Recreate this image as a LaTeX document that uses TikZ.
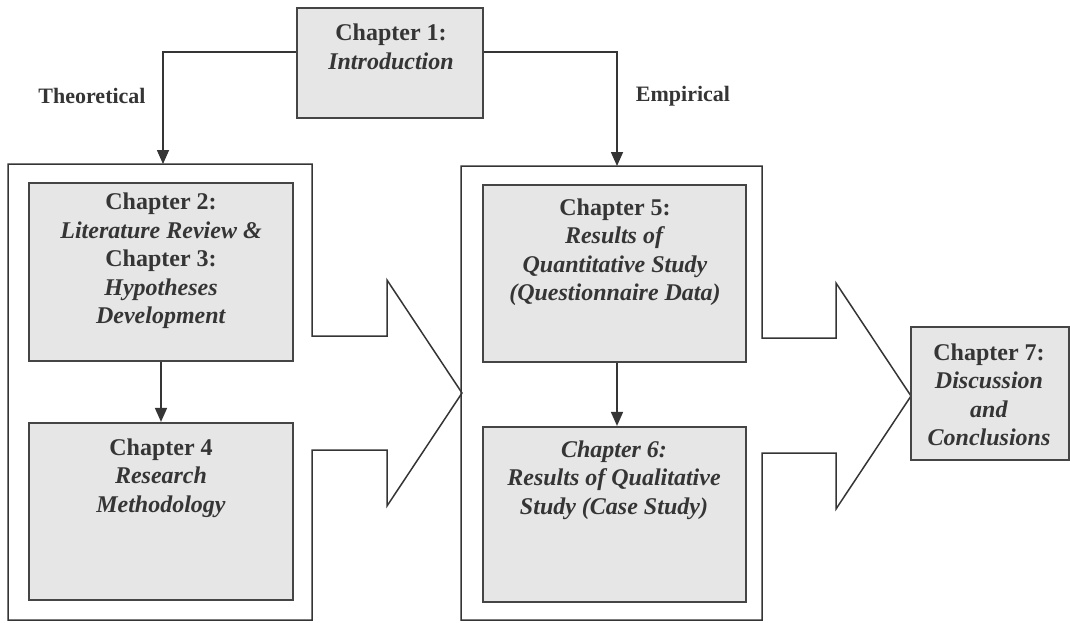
\documentclass[tikz,border=0pt]{standalone}
\usepackage{fontspec}
\setmainfont{Liberation Serif}
\usetikzlibrary{arrows.meta}

\definecolor{ink}{HTML}{353535}
\definecolor{edge}{HTML}{454545}
\definecolor{boxfill}{HTML}{E6E6E6}

\tikzset{
  chbox/.style={draw=edge, line width=2.2pt, fill=boxfill, inner sep=0pt},
  chtext/.style={text=ink, align=center, inner sep=0pt,
    font=\fontsize{24}{28.5}\selectfont\bfseries},
  sidelabel/.style={text=ink, inner sep=0pt,
    font=\fontsize{22}{26}\selectfont\bfseries},
  frame/.style={draw=ink, line width=1.5pt, line join=miter},
  link/.style={draw=ink, line width=1.6pt,
    -{Triangle[width=12pt,length=14pt]}},
}

\begin{document}
\begin{tikzpicture}[x=1pt, y=-1pt]
\useasboundingbox (0,0) rectangle (1070,622);

% outer frames with their block arrows
\draw[frame] (8,164) -- (312,164) -- (312,336) -- (387,336) -- (387,280)
  -- (462,393) -- (387,506) -- (387,450) -- (312,450) -- (312,620)
  -- (8,620) -- cycle;
\draw[frame] (461,166) -- (762,166) -- (762,338) -- (836,338) -- (836,283)
  -- (911,396) -- (836,509) -- (836,453) -- (762,453) -- (762,620)
  -- (461,620) -- cycle;
\coordinate (theo) at (163,164);
\coordinate (emp)  at (617,166);

% chapter boxes
\node[chbox, minimum width=186pt, minimum height=110pt] (ch1) at (390,63) {};
\node[chbox, minimum width=264pt, minimum height=178pt] (ch2) at (161,272) {};
\node[chbox, minimum width=264pt, minimum height=177pt] (ch4) at (161,511.5) {};
\node[chbox, minimum width=263pt, minimum height=177pt] (ch5) at (614.5,273.5) {};
\node[chbox, minimum width=263pt, minimum height=175pt] (ch6) at (614.5,514.5) {};
\node[chbox, minimum width=158pt, minimum height=133pt] (ch7) at (990,393.5) {};

% chapter texts
\node[chtext] (t1) at (391,47) {Chapter 1:\\ \textit{Introduction}};
\node[chtext] (t2) at (161,261) {Chapter 2:\\ \textit{Literature Review \&}\\ Chapter 3:\\ \textit{Hypotheses}\\ \textit{Development}};
\node[chtext] (t4) at (161,478) {Chapter 4\\ \textit{Research}\\ \textit{Methodology}};
\node[chtext] (t5) at (615,252) {Chapter 5:\\ \textit{Results of}\\ \textit{Quantitative Study}\\ \textit{(Questionnaire Data)}};
\node[chtext] (t6) at (614,480) {\textit{Chapter 6:}\\ \textit{Results of Qualitative}\\ \textit{Study (Case Study)}};
\node[chtext] (t7) at (989,395) {Chapter 7:\\ \textit{Discussion}\\ \textit{and}\\ \textit{Conclusions}};

% branch labels
\node[sidelabel] (lt) at (92,96) {Theoretical};
\node[sidelabel] (le) at (683,96) {Empirical};

% connectors
\draw[link] (ch1.west |- 0,52) -| (theo);
\draw[link] (ch1.east |- 0,52) -| (emp);
\draw[link] (ch2.south) -- (ch4.north);
\draw[link] (ch5.south -| emp) -- (ch6.north -| emp);
\end{tikzpicture}
\end{document}
